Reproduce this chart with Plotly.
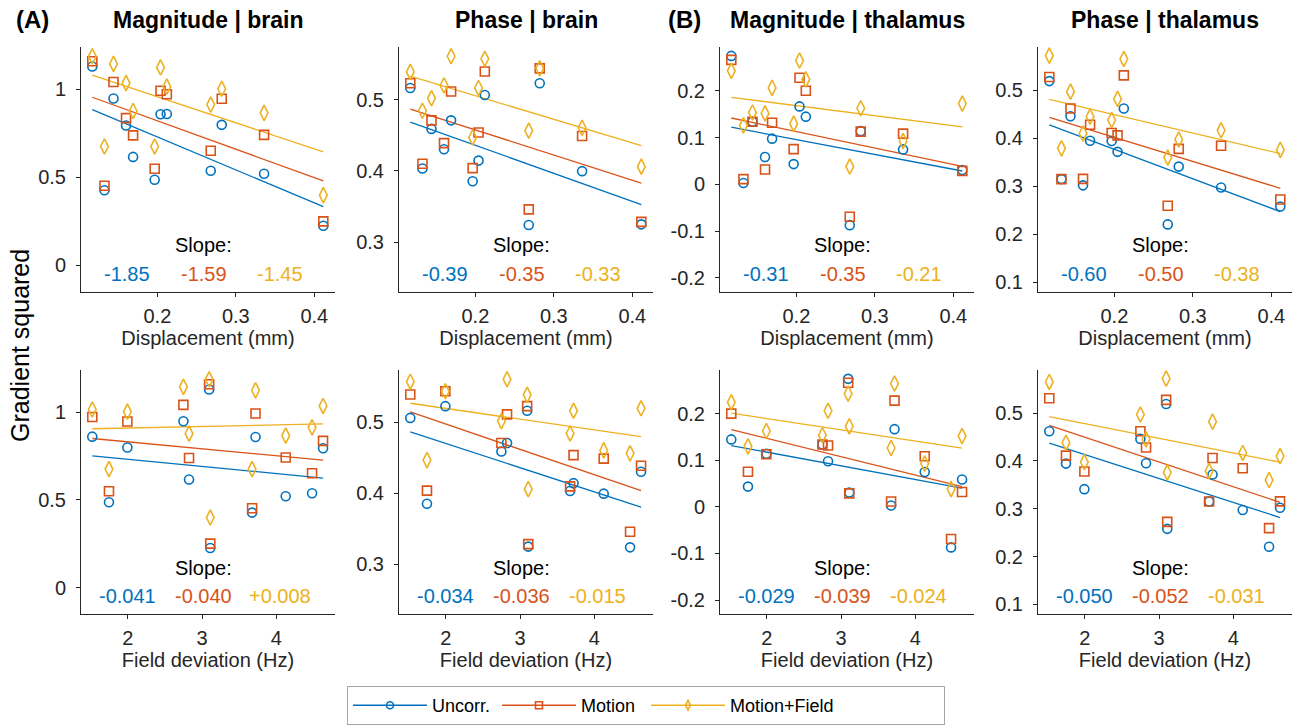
import numpy as np
import plotly.graph_objects as go

# ---------------- data (12 subjects, S1..S12) ----------------
displacement = [0.117, 0.1325, 0.144, 0.160, 0.169, 0.1965, 0.204, 0.212, 0.268, 0.282, 0.336, 0.4115]
field_dev = [3.095, 3.674, 2.748, 4.63, 2.824, 1.745, 3.72, 1.52, 4.482, 1.993, 4.127, 3.11]

mag_brain_uncorr = [1.129, 0.427, 0.948, 0.794, 0.616, 0.486, 0.858, 0.860, 0.537, 0.798, 0.520, 0.225]
mag_brain_motion = [1.159, 0.452, 1.041, 0.836, 0.738, 0.549, 0.992, 0.972, 0.651, 0.946, 0.741, 0.250]
mag_brain_mfield = [1.187, 0.675, 1.144, 1.035, 0.877, 0.675, 1.124, 1.015, 0.913, 1.003, 0.866, 0.399]

phase_brain_uncorr = [0.5165, 0.4035, 0.459, 0.4305, 0.471, 0.3855, 0.4145, 0.5065, 0.324, 0.523, 0.3997, 0.325]
phase_brain_motion = [0.523, 0.410, 0.471, 0.439, 0.5115, 0.404, 0.454, 0.5395, 0.346, 0.544, 0.449, 0.3285]
phase_brain_mfield = [0.539, 0.4845, 0.502, 0.520, 0.561, 0.447, 0.5165, 0.5575, 0.4565, 0.544, 0.4606, 0.406]

mag_thal_uncorr = [0.275, 0.003, 0.134, 0.0587, 0.098, 0.0436, 0.167, 0.145, -0.087, 0.114, 0.075, 0.0307]
mag_thal_motion = [0.2665, 0.0115, 0.134, 0.032, 0.132, 0.0755, 0.2283, 0.2003, -0.069, 0.113, 0.1088, 0.029]
mag_thal_mfield = [0.243, 0.1265, 0.154, 0.152, 0.2065, 0.130, 0.265, 0.2247, 0.0383, 0.163, 0.093, 0.173]

phase_thal_uncorr = [0.519, 0.315, 0.446, 0.302, 0.395, 0.3944, 0.3717, 0.462, 0.2207, 0.341, 0.2974, 0.258]
phase_thal_motion = [0.5275, 0.315, 0.462, 0.3155, 0.428, 0.411, 0.406, 0.531, 0.2594, 0.378, 0.3845, 0.2726]
phase_thal_mfield = [0.572, 0.379, 0.497, 0.41, 0.445, 0.438, 0.482, 0.565, 0.360, 0.3975, 0.4166, 0.3758]

slopes_top = {
    "mag_brain": ["-1.85", "-1.59", "-1.45"],
    "phase_brain": ["-0.39", "-0.35", "-0.33"],
    "mag_thal": ["-0.31", "-0.35", "-0.21"],
    "phase_thal": ["-0.60", "-0.50", "-0.38"],
}
slopes_bottom = {
    "mag_brain": ["-0.041", "-0.040", "+0.008"],
    "phase_brain": ["-0.034", "-0.036", "-0.015"],
    "mag_thal": ["-0.029", "-0.039", "-0.024"],
    "phase_thal": ["-0.050", "-0.052", "-0.031"],
}

panel_titles = ["Magnitude | brain", "Phase | brain", "Magnitude | thalamus", "Phase | thalamus"]
metrics = ["mag_brain", "phase_brain", "mag_thal", "phase_thal"]
series_names = ["Uncorr.", "Motion", "Motion+Field"]
values = {
    "mag_brain": [mag_brain_uncorr, mag_brain_motion, mag_brain_mfield],
    "phase_brain": [phase_brain_uncorr, phase_brain_motion, phase_brain_mfield],
    "mag_thal": [mag_thal_uncorr, mag_thal_motion, mag_thal_mfield],
    "phase_thal": [phase_thal_uncorr, phase_thal_motion, phase_thal_mfield],
}
y_ranges = {
    "mag_brain": [-0.151, 1.24],
    "phase_brain": [0.2300, 0.574],
    "mag_thal": [-0.230, 0.294],
    "phase_thal": [0.080, 0.590],
}
y_ticks = {
    "mag_brain": [0, 0.5, 1],
    "phase_brain": [0.3, 0.4, 0.5],
    "mag_thal": [-0.2, -0.1, 0, 0.1, 0.2],
    "phase_thal": [0.1, 0.2, 0.3, 0.4, 0.5],
}
x_top_ticks = [0.2, 0.3, 0.4]
x_bottom_ticks = [2, 3, 4]
x_top_range = [0.1026, 0.4264]
x_bottom_range = [1.368, 4.791]


def robust_fit(x, y, tune=4.685, iters=50):
    """Bisquare-weighted robust linear fit (IRLS); returns (intercept, slope)."""
    x = np.asarray(x, float)
    y = np.asarray(y, float)
    X = np.column_stack([np.ones_like(x), x])
    b = np.linalg.lstsq(X, y, rcond=None)[0]
    h = np.clip(np.diag(X @ np.linalg.pinv(X.T @ X) @ X.T), 0, 0.9999)
    adj = 1 / np.sqrt(1 - h)
    for _ in range(iters):
        radj = (y - X @ b) * adj
        s = np.median(np.sort(np.abs(radj))[1:]) / 0.6745
        if s == 0:
            break
        u = radj / (tune * s)
        w = np.where(np.abs(u) < 1, (1 - u ** 2) ** 2, 0.0)
        sw = np.sqrt(w)
        b = np.linalg.lstsq(X * sw[:, None], y * sw, rcond=None)[0]
    return b


# ---------------- styles ----------------
colors = ["#0072BD", "#D95319", "#EDB120"]
symbols = ["circle-open", "square-open", "diamond-tall-open"]
msizes = [9, 9, 11]
axis_col = "#262626"
FONT = "Liberation Sans, Arial, sans-serif"

W, H = 1292, 725
col_left_px = [81, 399, 720, 1038]
col_w_px = 254
row_px = [(47, 292), (370, 614)]

fig = go.Figure()
layout = dict(
    width=W, height=H, margin=dict(l=0, r=0, t=0, b=0, autoexpand=False),
    paper_bgcolor="white", plot_bgcolor="white",
    font=dict(family=FONT, size=20, color=axis_col),
    showlegend=True,
)
annotations = []

for r in range(2):
    for c in range(4):
        k = r * 4 + c + 1
        xa = "xaxis" if k == 1 else f"xaxis{k}"
        ya = "yaxis" if k == 1 else f"yaxis{k}"
        xr = "x" if k == 1 else f"x{k}"
        yr = "y" if k == 1 else f"y{k}"
        m = metrics[c]
        xdata = displacement if r == 0 else field_dev
        x0 = col_left_px[c] / W
        x1 = min(1.0, (col_left_px[c] + col_w_px) / W)
        top, bot = row_px[r]
        layout[xa] = dict(
            domain=[x0, x1], anchor=yr,
            range=x_top_range if r == 0 else x_bottom_range,
            tickvals=x_top_ticks if r == 0 else x_bottom_ticks,
            ticktext=[f"{v:g}" for v in (x_top_ticks if r == 0 else x_bottom_ticks)],
            showline=True, linecolor=axis_col, linewidth=1,
            ticks="outside", ticklen=4, tickcolor=axis_col, tickwidth=1,
            showgrid=False, zeroline=False,
            tickfont=dict(size=20, color=axis_col, family=FONT),
            ticklabelstandoff=2,
            title=dict(text="Displacement (mm)" if r == 0 else "Field deviation (Hz)",
                       font=dict(size=20, color=axis_col, family=FONT), standoff=4),
        )
        layout[ya] = dict(
            domain=[1 - bot / H, 1 - top / H], anchor=xr,
            range=y_ranges[m], tickvals=y_ticks[m],
            ticktext=[f"{v:g}" for v in y_ticks[m]],
            showline=True, linecolor=axis_col, linewidth=1,
            ticks="outside", ticklen=4, tickcolor=axis_col, tickwidth=1,
            showgrid=False, zeroline=False,
            tickfont=dict(size=20, color=axis_col, family=FONT),
            ticklabelstandoff=6,
        )
        xs = np.array(xdata)
        for s in range(3):
            b0, b1 = robust_fit(xs, values[m][s])
            xl = np.array([xs.min(), xs.max()])
            fig.add_trace(go.Scatter(
                x=xl, y=b0 + b1 * xl, mode="lines",
                line=dict(color=colors[s], width=1.3),
                xaxis=xr, yaxis=yr, showlegend=False, hoverinfo="skip"))
        for s in range(3):
            fig.add_trace(go.Scatter(
                x=xdata, y=values[m][s], mode="markers", name=series_names[s],
                marker=dict(symbol=symbols[s], size=msizes[s], color=colors[s],
                            line=dict(color=colors[s], width=1.6)),
                xaxis=xr, yaxis=yr, showlegend=False))
        # slope annotations
        xd = f"{xr} domain"
        yd = f"{yr} domain"
        annotations.append(dict(text="Slope:", x=0.483, y=0.19, xref=xd, yref=yd,
                                showarrow=False, xanchor="center", yanchor="middle",
                                font=dict(size=20, color="black", family=FONT)))
        labels = (slopes_top if r == 0 else slopes_bottom)[m]
        for s, xp in enumerate([0.183, 0.483, 0.782]):
            annotations.append(dict(text=labels[s], x=xp, y=0.075, xref=xd, yref=yd,
                                    showarrow=False, xanchor="center", yanchor="middle",
                                    font=dict(size=20, color=colors[s], family=FONT)))
        if r == 0:
            annotations.append(dict(text=f"<b>{panel_titles[c]}</b>", x=0.5, xref=xd,
                                    y=1 - 19.5 / H, yref="paper", showarrow=False,
                                    xanchor="center", yanchor="middle",
                                    font=dict(size=23, color="black", family=FONT)))

annotations.append(dict(text="<b>(A)</b>", x=14 / W, y=1 - 19.5 / H, xref="paper", yref="paper",
                        showarrow=False, xanchor="left", yanchor="middle",
                        font=dict(size=24, color="black", family=FONT)))
annotations.append(dict(text="<b>(B)</b>", x=666 / W, y=1 - 19.5 / H, xref="paper", yref="paper",
                        showarrow=False, xanchor="left", yanchor="middle",
                        font=dict(size=24, color="black", family=FONT)))
annotations.append(dict(text="Gradient squared", x=20 / W, y=1 - 346 / H, xref="paper", yref="paper",
                        showarrow=False, xanchor="center", yanchor="middle", textangle=-90,
                        font=dict(size=25, color="black", family=FONT)))

# legend entries (line + marker samples)
for s in range(3):
    fig.add_trace(go.Scatter(
        x=[None], y=[None], mode="lines+markers", name=series_names[s],
        line=dict(color=colors[s], width=1.6),
        marker=dict(symbol=symbols[s], size=7, color=colors[s],
                    line=dict(color=colors[s], width=1.6)),
        showlegend=True))
# blank entry giving the legend box its empty right-hand part
fig.add_trace(go.Scatter(
    x=[None], y=[None], mode="lines", name=" ",
    line=dict(color="rgba(0,0,0,0)", width=0), showlegend=True, hoverinfo="skip"))

layout["annotations"] = annotations
layout["legend"] = dict(
    orientation="h", x=0.5, xanchor="center", y=0, yanchor="bottom",
    bordercolor="#a6a6a6", borderwidth=1, bgcolor="white",
    font=dict(size=18, color="black", family=FONT),
    itemwidth=74, entrywidth=60, tracegroupgap=0,
)
fig.update_layout(**layout)
fig.write_html("out.html", config={"displayModeBar": False},
               post_script="document.body.style.margin='0';document.body.style.overflow='hidden';")
